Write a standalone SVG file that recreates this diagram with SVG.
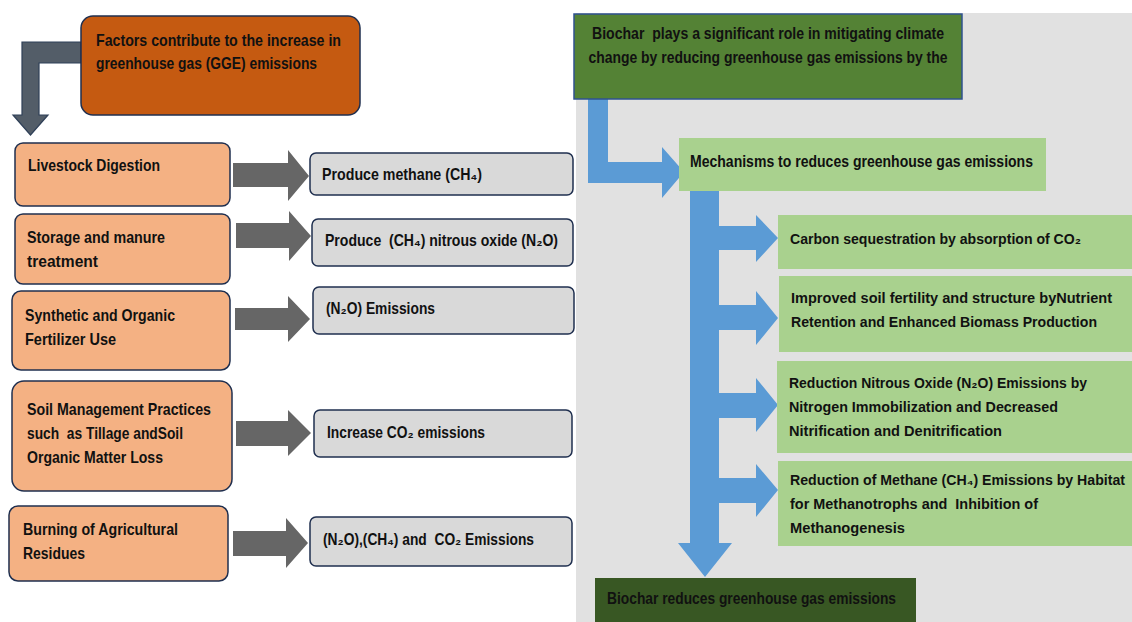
<svg xmlns="http://www.w3.org/2000/svg" width="1132" height="622" viewBox="0 0 1132 622">
<style>
text{font-family:"Liberation Sans",Arial,sans-serif;font-weight:bold;font-size:16.5px;fill:#111;white-space:pre}
.ctr{text-anchor:middle}
.sm{font-size:15px}
.xs{font-size:14px}
.orange{fill:#F4B183;stroke:#1F2F4F;stroke-width:1.5}
.res{fill:#D9D9D9;stroke:#1F2F4F;stroke-width:1.5}
.garrow{fill:#666666}
.lg{fill:#A9D18E}
.blue{fill:#5B9BD5}
</style>
<rect x="0" y="0" width="1132" height="622" fill="#FFFFFF"/>
<rect id="panel" x="576" y="13" width="556" height="609" fill="#E1E1E1"/>

<g id="connectors">
  <path d="M81,42 H22 V115 H13 L30.5,135 L48,115 H39 V63 H81 Z" fill="#535D68" stroke="#2F4058" stroke-width="1.2"/>
  <path class="garrow" d="M233,163 H288 V150 L309,176 L288,201 V187 H233 Z"/>
  <path class="garrow" d="M236,223 H289 V211 L311,236 L289,261 V248 H236 Z"/>
  <path class="garrow" d="M235,308 H288 V296 L310,319 L288,342 V330 H235 Z"/>
  <path class="garrow" d="M236,421 H288 V410 L311,433 L288,456 V446 H236 Z"/>
  <path class="garrow" d="M233,531 H286 V518 L308,543 L286,568 V556 H233 Z"/>
  <path class="blue" d="M588,99 H608 V162 H662 V147 L684,172 L662,198 V183 H588 Z"/>
  <path class="blue" d="M690,191 H719 V226 H756 V215 L778,238 L756,262 V250 H719 V305 H756 V291 L778,318 L756,345 V330 H719 V393 H756 V378 L778,405 L756,432 V418 H719 V478 H756 V464 L778,490 L756,517 V503 H719 V543 H732 L705,577 L678,543 H690 Z"/>
</g>

<g id="title">
  <rect x="81" y="16" width="279" height="99" rx="12" fill="#C55A11" stroke="#1F2F4F" stroke-width="1.5"/>
  <text x="96" y="46" textLength="245" lengthAdjust="spacingAndGlyphs">Factors contribute to the increase in</text>
  <text x="96" y="69" textLength="221" lengthAdjust="spacingAndGlyphs">greenhouse gas (GGE) emissions</text>
</g>

<g id="livestock">
  <rect class="orange" x="15" y="143" width="215" height="63" rx="8"/>
  <text x="28" y="171" textLength="132" lengthAdjust="spacingAndGlyphs">Livestock Digestion</text>
</g>
<g id="storage">
  <rect class="orange" x="15" y="214" width="215" height="70" rx="8"/>
  <text x="27" y="243" textLength="138" lengthAdjust="spacingAndGlyphs">Storage and manure</text>
  <text x="27" y="267" textLength="71" lengthAdjust="spacingAndGlyphs">treatment</text>
</g>
<g id="fertilizer">
  <rect class="orange" x="12" y="291" width="218" height="79" rx="9"/>
  <text x="25" y="321" textLength="150" lengthAdjust="spacingAndGlyphs">Synthetic and Organic</text>
  <text x="25" y="345" textLength="91" lengthAdjust="spacingAndGlyphs">Fertilizer Use</text>
</g>
<g id="soil">
  <rect class="orange" x="12" y="381" width="220" height="110" rx="12"/>
  <text x="27" y="415" textLength="184" lengthAdjust="spacingAndGlyphs">Soil Management Practices</text>
  <text x="27" y="439" textLength="156" lengthAdjust="spacingAndGlyphs">such  as Tillage andSoil</text>
  <text x="27" y="463" textLength="136" lengthAdjust="spacingAndGlyphs">Organic Matter Loss</text>
</g>
<g id="burning">
  <rect class="orange" x="9" y="506" width="219" height="75" rx="9"/>
  <text x="23" y="535" textLength="155" lengthAdjust="spacingAndGlyphs">Burning of Agricultural</text>
  <text x="23" y="559" textLength="62" lengthAdjust="spacingAndGlyphs">Residues</text>
</g>

<g id="methane">
  <rect class="res" x="310" y="153" width="263" height="42" rx="6"/>
  <text x="322" y="180" textLength="160" lengthAdjust="spacingAndGlyphs">Produce methane (CH₄)</text>
</g>
<g id="ch4n2o">
  <rect class="res" x="312" y="219" width="261" height="47" rx="6"/>
  <text x="325" y="246" textLength="233" lengthAdjust="spacingAndGlyphs">Produce  (CH₄) nitrous oxide (N₂O)</text>
</g>
<g id="n2o">
  <rect class="res" x="313" y="287" width="261" height="47" rx="6"/>
  <text x="326" y="314" textLength="109" lengthAdjust="spacingAndGlyphs">(N₂O) Emissions</text>
</g>
<g id="co2">
  <rect class="res" x="314" y="410" width="258" height="47" rx="6"/>
  <text x="327" y="438" textLength="158" lengthAdjust="spacingAndGlyphs">Increase CO₂ emissions</text>
</g>
<g id="all">
  <rect class="res" x="310" y="517" width="262" height="49" rx="6"/>
  <text x="323" y="545" textLength="211" lengthAdjust="spacingAndGlyphs">(N₂O),(CH₄) and  CO₂ Emissions</text>
</g>

<g id="biochar">
  <rect x="574" y="14" width="388" height="85" fill="#548235" stroke="#2F528F" stroke-width="1.5"/>
  <text x="768" y="39" class="ctr" textLength="352" lengthAdjust="spacingAndGlyphs">Biochar  plays a significant role in mitigating climate</text>
  <text x="768" y="63" class="ctr" textLength="359" lengthAdjust="spacingAndGlyphs">change by reducing greenhouse gas emissions by the</text>
</g>
<g id="mechanisms">
  <rect class="lg" x="679" y="138" width="367" height="53"/>
  <text x="690" y="167" textLength="343" lengthAdjust="spacingAndGlyphs">Mechanisms to reduces greenhouse gas emissions</text>
</g>
<g id="carbon">
  <rect class="lg" x="778" y="215" width="354" height="54"/>
  <text class="sm" x="790" y="244" textLength="291" lengthAdjust="spacingAndGlyphs">Carbon sequestration by absorption of CO₂</text>
</g>
<g id="fertility">
  <rect class="lg" x="779" y="276" width="353" height="76"/>
  <text class="sm" x="791" y="303" textLength="321" lengthAdjust="spacingAndGlyphs">Improved soil fertility and structure byNutrient</text>
  <text class="sm" x="791" y="327" textLength="306" lengthAdjust="spacingAndGlyphs">Retention and Enhanced Biomass Production</text>
</g>
<g id="nitrous">
  <rect class="lg" x="777" y="361" width="355" height="92"/>
  <text class="sm" x="789" y="388" textLength="298" lengthAdjust="spacingAndGlyphs">Reduction Nitrous Oxide (N₂O) Emissions by</text>
  <text class="sm" x="789" y="412" textLength="269" lengthAdjust="spacingAndGlyphs">Nitrogen Immobilization and Decreased</text>
  <text class="sm" x="789" y="436" textLength="213" lengthAdjust="spacingAndGlyphs">Nitrification and Denitrification</text>
</g>
<g id="methanered">
  <rect class="lg" x="778" y="461" width="354" height="85"/>
  <text class="xs" x="790" y="485" textLength="335" lengthAdjust="spacingAndGlyphs">Reduction of Methane (CH₄) Emissions by Habitat</text>
  <text class="sm" x="790" y="509" textLength="248" lengthAdjust="spacingAndGlyphs">for Methanotrophs and  Inhibition of</text>
  <text class="sm" x="790" y="533" textLength="115" lengthAdjust="spacingAndGlyphs">Methanogenesis</text>
</g>
<g id="result">
  <rect x="595" y="578" width="321" height="44" fill="#385723"/>
  <text x="607" y="604" textLength="289" lengthAdjust="spacingAndGlyphs">Biochar reduces greenhouse gas emissions</text>
</g>
</svg>
